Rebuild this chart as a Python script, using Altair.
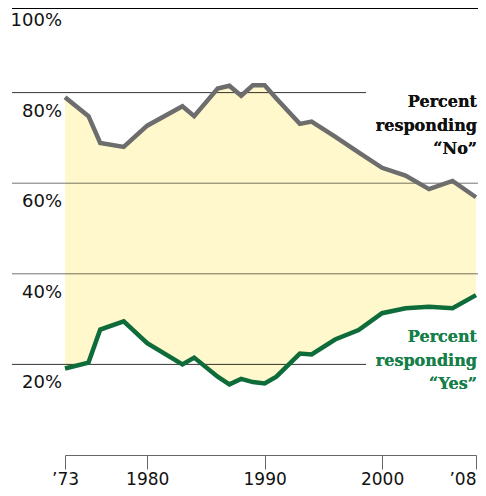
import altair as alt
import pandas as pd

# ---- data ----
years = [1973, 1975, 1976, 1978, 1980, 1983, 1984, 1986, 1987, 1988, 1989,
         1990, 1991, 1993, 1994, 1996, 1998, 2000, 2002, 2004, 2006, 2008]
pct_no = [79.0, 74.8, 68.9, 68.0, 72.7, 77.0, 74.8, 80.9, 81.5, 79.3, 81.6,
          81.6, 78.7, 73.1, 73.6, 70.3, 66.8, 63.4, 61.7, 58.7, 60.5, 56.9]
pct_yes = [19.1, 20.4, 27.7, 29.5, 24.7, 20.0, 21.5, 17.3, 15.6, 16.8, 16.1,
           15.8, 17.3, 22.4, 22.2, 25.5, 27.6, 31.3, 32.4, 32.7, 32.4, 35.3]

grid_full = [60, 40]
grid_short = [80, 20]
y_ticks = [100, 80, 60, 40, 20]
y_tick_labels = ["100%", "80%", "60%", "40%", "20%"]
x_ticks = [1973, 1980, 1990, 2000, 2008]
x_tick_labels = ["\u201973", "1980", "1990", "2000", "\u201908"]

label_no = ["Percent", "responding", "\u201cNo\u201d"]
label_yes = ["Percent", "responding", "\u201cYes\u201d"]

df = pd.DataFrame({"year": years, "no": pct_no, "yes": pct_yes})
df_full = pd.DataFrame({"pct": grid_full})
df_short = pd.DataFrame({"pct": grid_short})
df_ylab = pd.DataFrame({"pct": y_ticks, "label": y_tick_labels})

label_expr = "".join(
    f"datum.value == {v} ? '{t}' : " for v, t in zip(x_ticks, x_tick_labels)
) + "''"

x_scale = alt.Scale(domain=[1973, 2008], range=[57, 468])
y_scale = alt.Scale(domain=[0, 100], range=[447, -6])

x_axis = alt.Axis(
    values=x_ticks, labelExpr=label_expr, title=None, grid=False,
    tickSize=14, tickColor="#666", domainColor="#666",
    labelFont="DejaVu Sans", labelFontSize=17, labelColor="#111",
    labelPadding=2, labelFlush=False, labelOverlap=False,
    labelAlign={"condition": {"test": f"datum.value == {x_ticks[-1]}", "value": "right"},
                "value": "center"},
)

base = alt.Chart(df)

area = base.mark_area(color="#FFF8CC").encode(
    x=alt.X("year:Q", scale=x_scale, axis=x_axis),
    y=alt.Y("no:Q", scale=y_scale, axis=None),
    y2="yes:Q",
)

grid_a = alt.Chart(df_full).mark_rule(color="#000", opacity=0.55, strokeWidth=1).encode(
    y=alt.Y("pct:Q", scale=y_scale, axis=None),
    x=alt.value(4), x2=alt.value(470),
)
grid_b = alt.Chart(df_short).mark_rule(color="#000", opacity=0.8, strokeWidth=1).encode(
    y=alt.Y("pct:Q", scale=y_scale, axis=None),
    x=alt.value(4), x2=alt.value(358),
)
top_rule = alt.Chart(df_full).mark_rule(color="#000", strokeWidth=1).encode(
    y=alt.value(0.5), x=alt.value(4), x2=alt.value(470),
)

ylabels = alt.Chart(df_ylab).mark_text(
    align="right", baseline="middle", dy=19,
    font="DejaVu Sans", fontSize=18, color="#111",
).encode(
    y=alt.Y("pct:Q", scale=y_scale, axis=None),
    x=alt.value(54),
    text="label:N",
)

line_no = base.mark_line(color="#6d6d6d", strokeWidth=4.5).encode(
    x=alt.X("year:Q", scale=x_scale),
    y=alt.Y("no:Q", scale=y_scale),
)
line_yes = base.mark_line(color="#0e6b3a", strokeWidth=4.5).encode(
    x=alt.X("year:Q", scale=x_scale),
    y=alt.Y("yes:Q", scale=y_scale),
)

ann_no = alt.Chart(df_full).mark_text(
    text=label_no, align="right", baseline="top", lineHeight=23.5,
    font="DejaVu Serif", fontWeight="bold", fontSize=16, color="#111",
).encode(x=alt.value(469), y=alt.value(86))

ann_yes = alt.Chart(df_full).mark_text(
    text=label_yes, align="right", baseline="top", lineHeight=23.5,
    font="DejaVu Serif", fontWeight="bold", fontSize=16, color="#17804a",
).encode(x=alt.value(469), y=alt.value(321))

chart = alt.layer(
    area, grid_a, grid_b, top_rule, ylabels, line_no, line_yes, ann_no, ann_yes
).properties(
    width=470, height=447,
    autosize=alt.AutoSizeParams(type="none"),
    padding={"left": 0, "top": 0, "right": 0, "bottom": 32},
).configure_view(stroke=None)

chart.save("out.html", embed_options={"renderer": "svg", "actions": False})
